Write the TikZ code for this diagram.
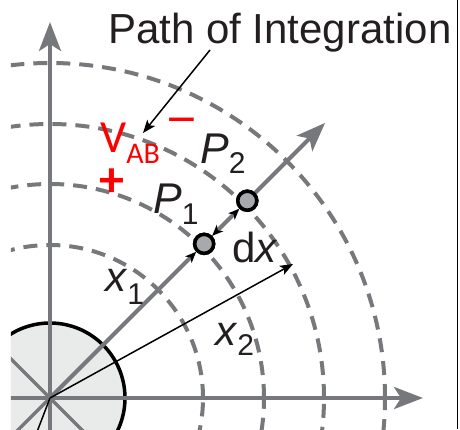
\documentclass[tikz,border=0pt]{standalone}
\usepackage{fontspec}
\setmainfont{Liberation Sans}
\newfontfamily\redfont{Carlito}
\usetikzlibrary{arrows.meta}
\definecolor{axgray}{HTML}{77787B}
\definecolor{ptgray}{HTML}{A7A9AC}
\definecolor{discgray}{HTML}{E9EAEA}
\definecolor{ink}{HTML}{231F20}
\definecolor{vred}{HTML}{FF0000}
\tikzset{
  dashcirc/.style={axgray, line width=4pt, dash pattern=on 14pt off 9pt},
  axisline/.style={axgray, line width=4pt, -{Stealth[length=29pt,width=22pt,inset=7pt,fill=axgray]}},
  spoke/.style={axgray, line width=3.5pt},
  pointnode/.style={circle, draw=black, line width=3.5pt, fill=ptgray, minimum size=19pt, inner sep=0pt},
  thinarrow/.style={black, line width=1.5pt, -{Stealth[length=13pt,width=10pt,inset=3pt]}},
  lbl/.style={inner sep=0pt, anchor=base west, text=ink},
  redlbl/.style={inner sep=0pt, text=vred, font=\redfont},
}
\begin{document}
\begin{tikzpicture}[x=1pt,y=1pt]
\useasboundingbox (-50,-31) rectangle (410,398);
\coordinate (O) at (0,0);
\begin{scope}
  \clip (-39,-31) rectangle (405,398);
  % dashed equipotential circles
  \foreach \r in {153,214,274,335} \draw[dashcirc] (O) circle (\r);
  % charged sphere
  \fill[discgray] (O) circle (75);
  \foreach \a in {45,135,225,315} \draw[spoke] (O) -- (\a:75);
  \draw[black, line width=3.5pt] (O) circle (75);
  % axes
  \coordinate (xstart) at (-45,0);
  \coordinate (xtip) at (373,0);
  \coordinate (ystart) at (0,-35);
  \coordinate (ytip) at (0,376);
  \draw[axisline] (xstart) -- (xtip);
  \draw[axisline] (ystart) -- (ytip);
  % black line down-left
  \coordinate (dl) at (249:45);
  \draw[black, line width=1.5pt] (O) -- (dl);
\end{scope}
% points along the radial path
\node[pointnode] (P1) at (45:218) {};
\node[pointnode] (P2) at (45:279) {};
\coordinate (rtip) at (45:389);
\draw[axgray, line width=4pt, -{Stealth[length=11pt,width=9pt,inset=3pt,fill=black,color=black]}] (O) -- (P1);
\draw[axgray, line width=4pt, {Stealth[length=11pt,width=9pt,inset=3pt,fill=black,color=black]}-{Stealth[length=11pt,width=9pt,inset=3pt,fill=black,color=black]}] (P1) -- (P2);
\draw[axisline] (P2) -- (rtip);
\node[pointnode] at (P1) {};
\node[pointnode] at (P2) {};
% x2 arrow
\coordinate (x2tip) at (243,134);
\draw[thinarrow] (O) -- (x2tip);
% path of integration
\node[lbl, font=\fontsize{42}{42}\selectfont] (title) at (58,354) {Path of Integration};
\coordinate (pathstart) at (160,348);
\coordinate (pathend) at (93,265);
\draw[thinarrow] (pathstart) -- (pathend);
% labels
\node[lbl, font=\fontsize{43}{43}\selectfont] (lP2) at (150,235) {\textit{P}\raisebox{-10pt}{\fontsize{30}{30}\selectfont 2}};
\node[lbl, font=\fontsize{43}{43}\selectfont] (lP1) at (103,185) {\textit{P}\raisebox{-11pt}{\fontsize{30}{30}\selectfont 1}};
\node[lbl, font=\fontsize{42}{42}\selectfont] (ldx) at (182,136) {d\textit{x}};
\node[lbl, font=\fontsize{42}{42}\selectfont] (lx1) at (55,107) {\textit{x}\raisebox{-13pt}{\fontsize{30}{30}\selectfont 1}};
\node[lbl, font=\fontsize{42}{42}\selectfont] (lx2) at (165,53) {\textit{x}\raisebox{-10pt}{\fontsize{30}{30}\selectfont 2}};
\node[redlbl, anchor=base west, font=\redfont\fontsize{46}{46}\selectfont] (vab) at (50,246) {V\raisebox{-11pt}{\fontsize{30}{30}\selectfont AB}};
\node[redlbl, font=\redfont\fontsize{44}{44}\selectfont] (minus) at (132,271) {\scalebox{1.5}[1.2]{−}};
\node[redlbl, font=\redfont\bfseries\fontsize{50}{50}\selectfont] (plus) at (62,215) {+};
% right frame line
\coordinate (fr1) at (407.5,-31);
\coordinate (fr2) at (407.5,398);
\draw[black, line width=1.5pt] (fr1) -- (fr2);
\end{tikzpicture}
\end{document}
